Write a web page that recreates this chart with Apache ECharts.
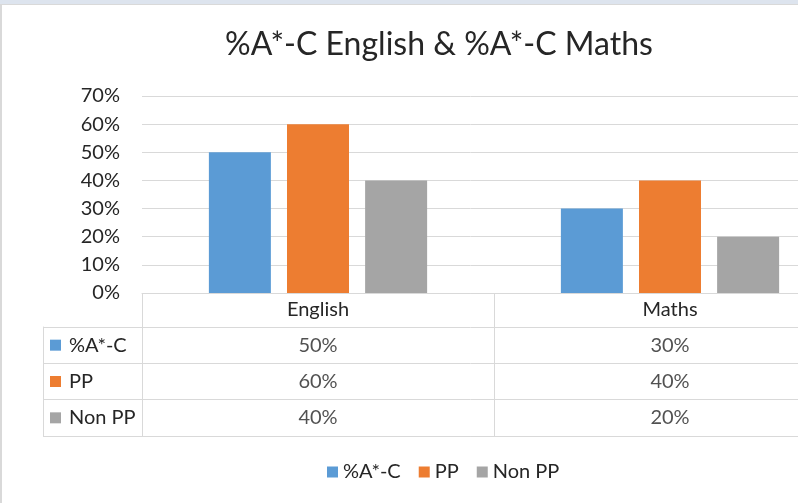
<!DOCTYPE html>
<html>
<head>
<meta charset="utf-8">
<script src="https://cdn.jsdelivr.net/npm/echarts@6/dist/echarts.min.js"></script>
<style>html,body{margin:0;padding:0;background:#fff;}#c{width:798px;height:503px;}</style>
</head>
<body>
<div id="c"></div>
<script>
const titleText = '%A*-C English & %A*-C Maths';
const categories = ['English', 'Maths'];
const seriesNames = ['%A*-C', 'PP', 'Non PP'];
const valAC = [0.5, 0.3];
const valPP = [0.6, 0.4];
const valNonPP = [0.4, 0.2];
const yTicks = [0, 0.1, 0.2, 0.3, 0.4, 0.5, 0.6, 0.7];

const colors = ['#5b9bd5', '#ed7d31', '#a5a5a5'];
const allVals = [valAC, valPP, valNonPP];
const FONT = 'Lato';
const TXT = '#262626';
const LINE = '#d9d9d9';
const FS = 20;
const pct = v => Math.round(v * 100) + '%';

const tableData = [];
seriesNames.forEach((s, i) => categories.forEach((c, j) => tableData.push([c, s, allVals[i][j]])));

const chart = echarts.init(document.getElementById('c'));
chart.setOption({
  animation: false,
  backgroundColor: '#fff',
  color: colors,
  textStyle: { fontFamily: FONT, color: TXT },
  title: {
    text: titleText, left: 220, top: 24,
    textStyle: { fontFamily: FONT, fontSize: 32, fontWeight: 'normal', color: TXT }
  },
  legend: {
    data: seriesNames, left: 322, top: 457, itemWidth: 11, itemHeight: 11, itemGap: 18,
    icon: 'rect',
    textStyle: { fontFamily: FONT, fontSize: FS, color: TXT }
  },
  grid: [
    { left: 142, top: 96, width: 704, height: 197, outerBoundsMode: 'none', containLabel: false },
    { left: 142, top: 327, width: 704, height: 109, outerBoundsMode: 'none', containLabel: false }
  ],
  xAxis: [
    {
      type: 'category', data: categories, gridIndex: 0,
      axisLine: { lineStyle: { color: LINE } },
      axisTick: { show: true, length: 34, lineStyle: { color: LINE } },
      axisLabel: { margin: 7, fontSize: FS, color: TXT, fontFamily: FONT }
    },
    {
      type: 'category', data: categories, gridIndex: 1,
      axisLine: { show: true, lineStyle: { color: LINE } },
      axisTick: { show: false },
      axisLabel: { show: false },
      splitLine: { show: true, lineStyle: { color: LINE } }
    }
  ],
  yAxis: [
    {
      type: 'value', gridIndex: 0, min: 0, max: 0.7, interval: 0.1,
      axisLine: { show: false }, axisTick: { show: false },
      splitLine: { lineStyle: { color: LINE } },
      axisLabel: { margin: 22, fontSize: FS, color: TXT, fontFamily: FONT, formatter: v => pct(v) }
    },
    {
      type: 'category', gridIndex: 1, data: seriesNames, inverse: true,
      axisLine: { show: true, lineStyle: { color: LINE } },
      axisTick: { show: true, length: 99, lineStyle: { color: LINE } },
      splitLine: { show: true, lineStyle: { color: LINE } },
      axisLabel: {
        align: 'left', margin: 92, fontSize: FS, color: TXT, fontFamily: FONT,
        formatter: (v, i) => '{m' + i + '|}{g|}' + v,
        rich: {
          m0: { width: 11, height: 11, backgroundColor: colors[0] },
          m1: { width: 11, height: 11, backgroundColor: colors[1] },
          m2: { width: 11, height: 11, backgroundColor: colors[2] },
          g: { width: 8 }
        }
      }
    },
    {
      type: 'category', gridIndex: 1, data: seriesNames, inverse: true, position: 'left', offset: 99,
      axisLine: { show: true, lineStyle: { color: LINE } },
      axisTick: { show: false }, axisLabel: { show: false }, splitLine: { show: false }
    }
  ],
  series: [
    { name: seriesNames[0], type: 'bar', data: valAC, barWidth: 62, barGap: '26%' },
    { name: seriesNames[1], type: 'bar', data: valPP, barWidth: 62, barGap: '26%' },
    { name: seriesNames[2], type: 'bar', data: valNonPP, barWidth: 62, barGap: '26%' },
    {
      name: 'table', type: 'scatter', xAxisIndex: 1, yAxisIndex: 1, data: tableData,
      symbolSize: 1, itemStyle: { color: 'rgba(0,0,0,0)' }, silent: true,
      label: { show: true, position: 'inside', fontSize: FS, color: TXT, fontFamily: FONT,
        formatter: p => pct(p.value[2]) }
    }
  ],
  graphic: [
    { type: 'rect', shape: { x: 0, y: 0, width: 798, height: 4 }, style: { fill: '#dde4ee' }, silent: true },
    { type: 'line', shape: { x1: 0, y1: 4.5, x2: 798, y2: 4.5 }, style: { stroke: LINE }, silent: true },
    { type: 'line', shape: { x1: 1, y1: 4, x2: 1, y2: 503 }, style: { stroke: LINE, lineWidth: 2 }, silent: true }
  ]
});
</script>
</body>
</html>
